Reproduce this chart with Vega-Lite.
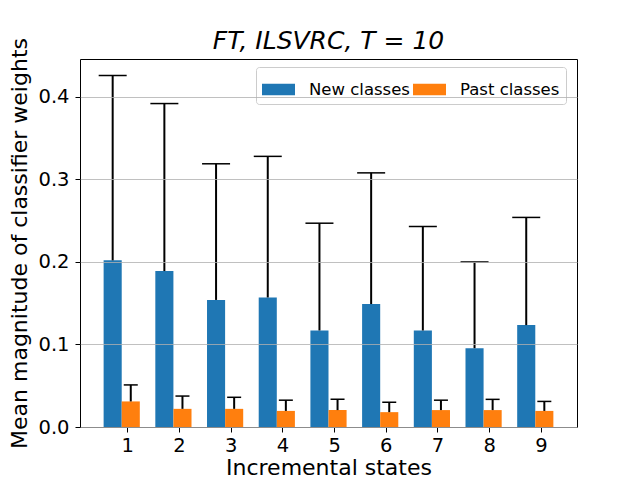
{
  "$schema": "https://vega.github.io/schema/vega-lite/v6.json",
  "autosize": {"type": "none"},
  "padding": {"left": 80, "top": 59, "right": 63, "bottom": 53},
  "width": 497,
  "height": 368,
  "title": {
    "text": "FT, ILSVRC, T = 10",
    "font": "DejaVu Sans",
    "fontSize": 25,
    "fontStyle": "italic",
    "fontWeight": "normal",
    "color": "black",
    "baseline": "alphabetic",
    "offset": 0,
    "dy": 36
  },
  "data": {
    "values": [
      {"state": 1, "series": "New classes", "value": 0.202, "upper": 0.426},
      {"state": 1, "series": "Past classes", "value": 0.031, "upper": 0.051},
      {"state": 2, "series": "New classes", "value": 0.189, "upper": 0.392},
      {"state": 2, "series": "Past classes", "value": 0.022, "upper": 0.0375},
      {"state": 3, "series": "New classes", "value": 0.154, "upper": 0.319},
      {"state": 3, "series": "Past classes", "value": 0.022, "upper": 0.036},
      {"state": 4, "series": "New classes", "value": 0.157, "upper": 0.328},
      {"state": 4, "series": "Past classes", "value": 0.0195, "upper": 0.0325},
      {"state": 5, "series": "New classes", "value": 0.117, "upper": 0.247},
      {"state": 5, "series": "Past classes", "value": 0.0205, "upper": 0.0335},
      {"state": 6, "series": "New classes", "value": 0.149, "upper": 0.308},
      {"state": 6, "series": "Past classes", "value": 0.018, "upper": 0.030},
      {"state": 7, "series": "New classes", "value": 0.117, "upper": 0.243},
      {"state": 7, "series": "Past classes", "value": 0.0205, "upper": 0.0325},
      {"state": 8, "series": "New classes", "value": 0.0955, "upper": 0.200},
      {"state": 8, "series": "Past classes", "value": 0.0205, "upper": 0.0335},
      {"state": 9, "series": "New classes", "value": 0.1235, "upper": 0.254},
      {"state": 9, "series": "Past classes", "value": 0.0195, "upper": 0.031}
    ]
  },
  "encoding": {
    "x": {
      "field": "state",
      "type": "ordinal",
      "scale": {"paddingInner": 0.3, "paddingOuter": 0.457},
      "axis": {"labelAngle": 0, "tickOffset": 5.6, "title": "Incremental states", "labelPadding": 4, "titlePadding": 3}
    },
    "xOffset": {
      "field": "series",
      "type": "nominal",
      "sort": ["New classes", "Past classes"],
      "scale": {"paddingInner": 0, "paddingOuter": 0}
    }
  },
  "layer": [
    {
      "mark": {"type": "bar"},
      "encoding": {
        "y": {
          "field": "value",
          "type": "quantitative",
          "scale": {"domain": [0, 0.446], "nice": false},
          "axis": {
            "title": "Mean magnitude of classifier weights",
            "values": [0, 0.1, 0.2, 0.3, 0.4],
            "format": ".1f",
            "grid": true,
            "zindex": 1,
            "labelPadding": 6,
            "titlePadding": 6
          }
        },
        "color": {
          "field": "series",
          "type": "nominal",
          "scale": {"domain": ["New classes", "Past classes"], "range": ["#1f77b4", "#ff7f0e"]},
          "legend": {"title": null}
        }
      }
    },
    {
      "mark": {"type": "rule", "color": "black", "strokeWidth": 2},
      "encoding": {
        "y": {"field": "value", "type": "quantitative"},
        "y2": {"field": "upper"}
      }
    },
    {
      "transform": [{"filter": "datum.series == 'New classes'"}],
      "mark": {"type": "tick", "color": "black", "thickness": 1.5, "opacity": 1, "size": 28},
      "encoding": {
        "y": {"field": "upper", "type": "quantitative"}
      }
    },
    {
      "transform": [{"filter": "datum.series == 'Past classes'"}],
      "mark": {"type": "tick", "color": "black", "thickness": 1.5, "opacity": 1, "size": 14},
      "encoding": {
        "y": {"field": "upper", "type": "quantitative"}
      }
    }
  ],
  "config": {
    "font": "DejaVu Sans",
    "view": {"stroke": "black", "strokeWidth": 1},
    "axis": {
      "domain": false,
      "labelFontSize": 19.5,
      "titleFontSize": 22,
      "titleFontWeight": "normal",
      "labelColor": "black",
      "titleColor": "black",
      "tickColor": "black",
      "tickSize": 5,
      "gridColor": "#b0b0b0",
      "gridWidth": 0.8
    },
    "legend": {
      "orient": "none",
      "legendX": 176,
      "legendY": 8,
      "direction": "horizontal",
      "fillColor": "white",
      "strokeColor": "#cccccc",
      "cornerRadius": 3,
      "padding": 6,
      "labelFontSize": 16.5,
      "labelColor": "black",
      "symbolType": "M-1,-0.35H1V0.35H-1Z",
      "symbolSize": 1089,
      "symbolStrokeWidth": 0,
      "labelOffset": 14,
      "columnPadding": 3
    }
  }
}
